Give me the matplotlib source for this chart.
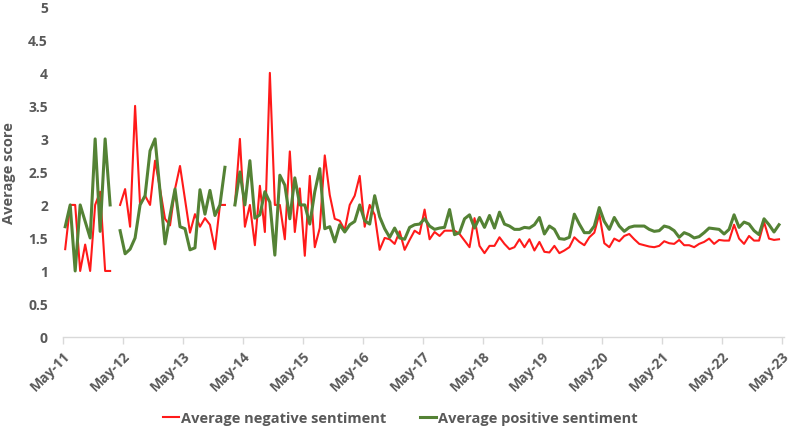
import numpy as np
import matplotlib
matplotlib.use("Agg")
import matplotlib.pyplot as plt

nan = np.nan
negative = [1.33, 2.0, 2.0, 1.0, 1.4, 1.0, 2.0, 2.2, 1.0, 1.0,
            nan, 2.0, 2.24, 1.67, 3.5, 2.0, 2.14, 2.0, 2.67, 2.24,
            1.79, 1.69, 2.24, 2.59, 2.09, 1.58, 1.86, 1.67, 1.8, 1.7,
            1.33, 2.0, 2.0, nan, 2.0, 3.0, 1.67, 2.0, 1.39, 2.29,
            1.59, 4.0, 2.0, 2.0, 1.48, 2.81, 1.59, 2.25, 1.23, 2.44,
            1.36, 1.65, 2.75, 2.15, 1.79, 1.76, 1.62, 2.0, 2.14, 2.44,
            1.67, 2.0, 1.85, 1.32, 1.5, 1.48, 1.41, 1.6, 1.32, 1.47,
            1.61, 1.56, 1.93, 1.48, 1.59, 1.53, 1.61, 1.61, 1.61, 1.56,
            1.46, 1.36, 1.8, 1.38, 1.27, 1.38, 1.38, 1.51, 1.41, 1.33,
            1.36, 1.48, 1.36, 1.48, 1.31, 1.44, 1.29, 1.28, 1.38, 1.27,
            1.31, 1.36, 1.51, 1.44, 1.39, 1.51, 1.58, 1.86, 1.42, 1.36,
            1.49, 1.45, 1.53, 1.56, 1.48, 1.41, 1.39, 1.37, 1.36, 1.38,
            1.45, 1.42, 1.41, 1.47, 1.39, 1.39, 1.36, 1.41, 1.44, 1.49,
            1.41, 1.47, 1.46, 1.46, 1.7, 1.49, 1.41, 1.53, 1.46, 1.46,
            1.74, 1.49, 1.47, 1.48]
positive = [1.67, 2.0, 1.0, 2.0, 1.75, 1.5, 3.0, 1.6, 3.0, 2.0,
            nan, 1.61, 1.26, 1.33, 1.5, 2.0, 2.14, 2.82, 3.0, 2.2,
            1.41, 1.84, 2.24, 1.67, 1.64, 1.32, 1.35, 2.23, 1.86, 2.22,
            1.84, 2.0, 2.57, nan, 2.0, 2.5, 2.0, 2.67, 1.8, 1.85,
            2.2, 2.04, 1.24, 2.45, 2.3, 1.79, 2.41, 2.0, 2.0, 1.71,
            2.2, 2.55, 1.64, 1.67, 1.44, 1.7, 1.59, 1.7, 1.75, 2.0,
            1.76, 1.71, 2.14, 1.82, 1.64, 1.51, 1.65, 1.5, 1.48, 1.66,
            1.7, 1.71, 1.79, 1.68, 1.63, 1.65, 1.66, 1.93, 1.55, 1.58,
            1.79, 1.85, 1.65, 1.81, 1.66, 1.84, 1.65, 1.89, 1.71, 1.68,
            1.63, 1.63, 1.66, 1.65, 1.7, 1.81, 1.56, 1.68, 1.63, 1.49,
            1.48, 1.51, 1.86, 1.71, 1.58, 1.58, 1.68, 1.96, 1.75, 1.63,
            1.81, 1.68, 1.6, 1.66, 1.68, 1.68, 1.68, 1.63, 1.6, 1.61,
            1.68, 1.66, 1.61, 1.51, 1.58, 1.55, 1.5, 1.52, 1.58, 1.65,
            1.64, 1.63, 1.56, 1.63, 1.85, 1.66, 1.74, 1.71, 1.61, 1.55,
            1.79, 1.7, 1.59, 1.7]
tick_labels = ["May-11", "May-12", "May-13", "May-14", "May-15", "May-16", "May-17",
               "May-18", "May-19", "May-20", "May-21", "May-22", "May-23"]
y_ticks = [0, 0.5, 1, 1.5, 2, 2.5, 3, 3.5, 4, 4.5, 5]

plt.rcParams['font.family'] = ['Open Sans', 'DejaVu Sans']
GRAY = '#595959'

fig = plt.figure(figsize=(8, 4.35), dpi=100)
ax = fig.add_axes([0.079, 0.223, 0.901, 0.759])

months = np.arange(len(negative)) + 0.4
ax.plot(months, negative, color='#FF1A1A', lw=1.5, label='Average negative sentiment')
ax.plot(months, positive, color='#548235', lw=2.2, label='Average positive sentiment')

ax.set_ylim(0, 5)
ax.set_xlim(0, 144.4)
ax.set_yticks(y_ticks)
ax.set_yticklabels([f"{v:g}" for v in y_ticks])
xt = np.arange(len(tick_labels)) * 12
ax.set_xticks(xt)
ax.set_xticklabels(tick_labels, rotation=45, ha='right', va='top', rotation_mode='anchor')

for s in ['top', 'right', 'left']:
    ax.spines[s].set_visible(False)
ax.spines['bottom'].set_color('#D9D9D9')
ax.spines['bottom'].set_linewidth(1.0)
ax.tick_params(axis='x', colors='#D9D9D9', length=5, width=1.0, labelcolor=GRAY,
               labelsize=10, pad=3)
ax.tick_params(axis='y', length=0, labelcolor=GRAY, labelsize=10, pad=11)
for lab in ax.get_xticklabels() + ax.get_yticklabels():
    lab.set_fontweight('bold')

ax.set_ylabel('Average score', color=GRAY, fontsize=10.5, fontweight='bold')
ax.yaxis.set_label_coords(-0.065, 0.5)

leg = fig.legend(loc='lower center', bbox_to_anchor=(0.5, -0.01), ncol=2, frameon=False,
                 handlelength=1.1, handletextpad=0.15, columnspacing=2.3,
                 prop={'weight': 'bold', 'size': 10.5})
for t in leg.get_texts():
    t.set_color(GRAY)

fig.savefig('out.png', dpi=100)
